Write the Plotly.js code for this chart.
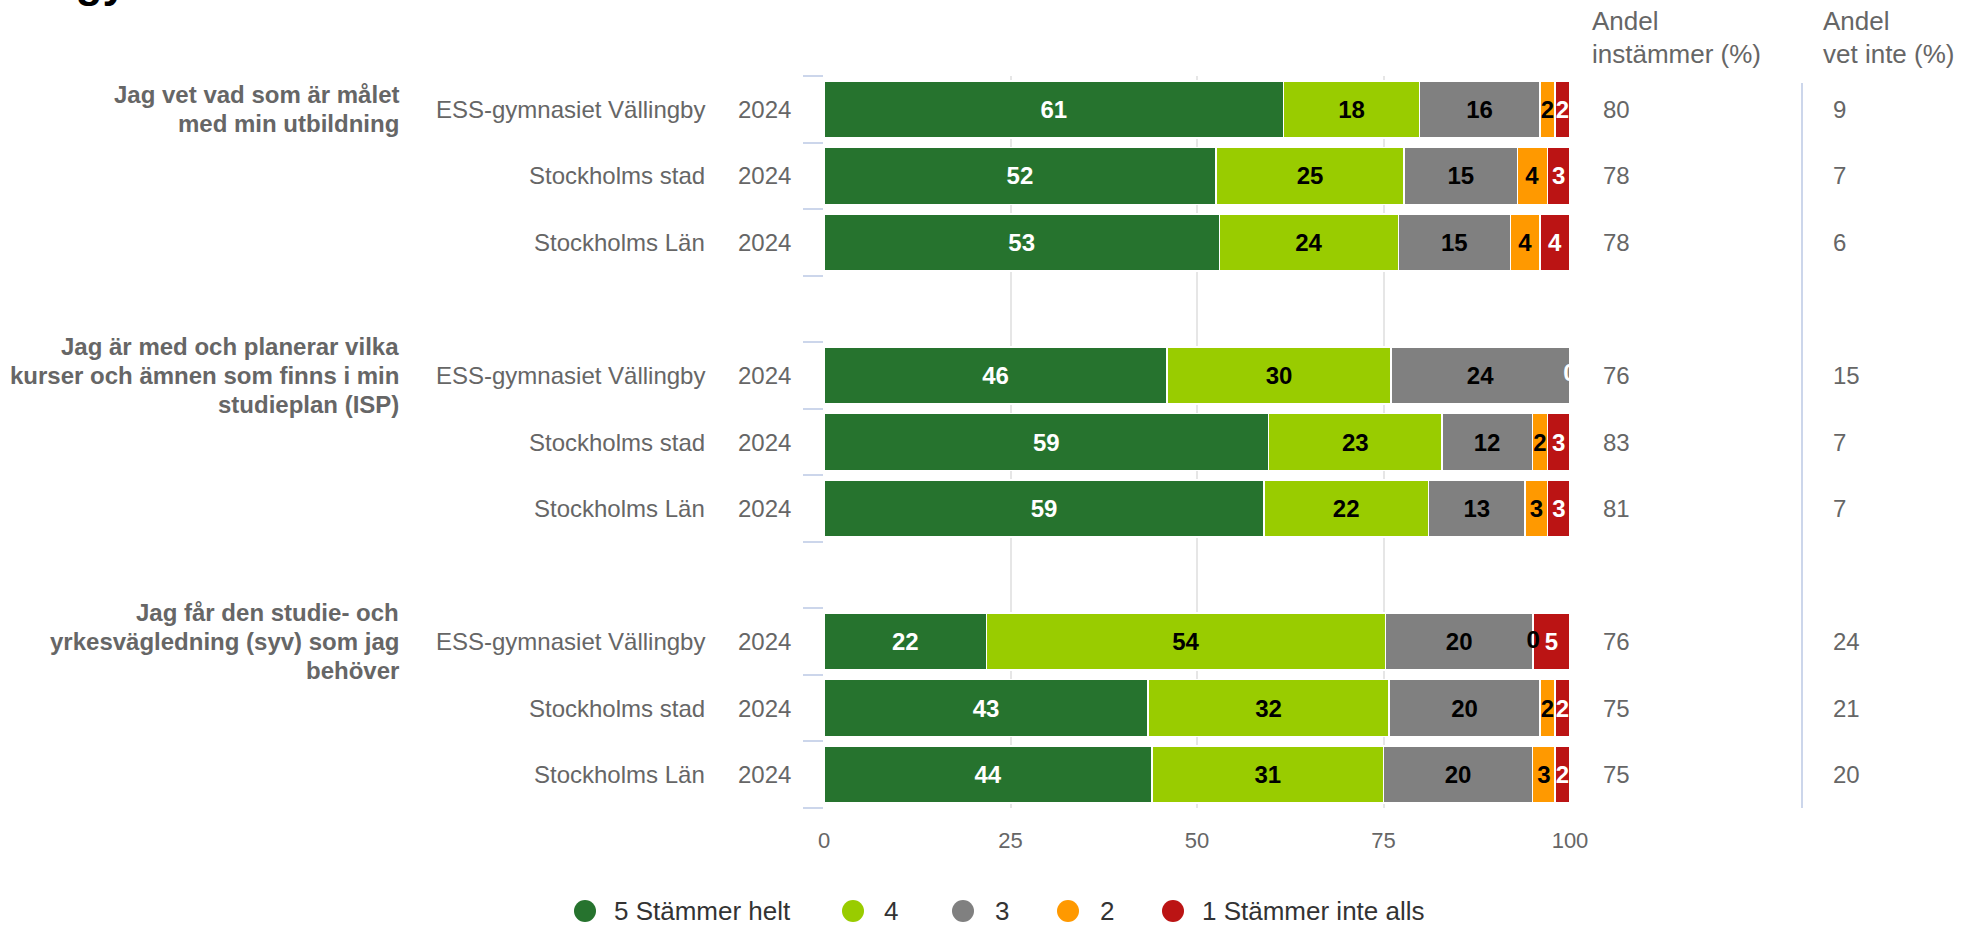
<!DOCTYPE html>
<html><head><meta charset="utf-8">
<script src="https://cdn.plot.ly/plotly-3.0.1.min.js"></script>
<style>html,body{margin:0;padding:0;background:#fff;overflow:hidden}</style>
</head><body><div id="chart" style="width:1967px;height:925px"></div>
<script>
// ---- data ----
const questions = [
  "Jag vet vad som är målet<br>med min utbildning",
  "Jag är med och planerar vilka<br>kurser och ämnen som finns i min<br>studieplan (ISP)",
  "Jag får den studie- och<br>yrkesvägledning (syv) som jag<br>behöver"
];
const units = ["ESS-gymnasiet Vällingby", "Stockholms stad", "Stockholms Län",
               "ESS-gymnasiet Vällingby", "Stockholms stad", "Stockholms Län",
               "ESS-gymnasiet Vällingby", "Stockholms stad", "Stockholms Län"];
const years = ["2024", "2024", "2024", "2024", "2024", "2024", "2024", "2024", "2024"];
const s5 = [61, 52, 53, 46, 59, 59, 22, 43, 44];
const s4 = [18, 25, 24, 30, 23, 22, 54, 32, 31];
const s3 = [16, 15, 15, 24, 12, 13, 20, 20, 20];
const s2 = [2, 4, 4, null, 2, 3, 0, 2, 3];
const s1 = [2, 3, 4, 0, 3, 3, 5, 2, 2];
const agree = [80, 78, 78, 76, 83, 81, 76, 75, 75];
const dontKnow = [9, 7, 6, 15, 7, 7, 24, 21, 20];
const seriesNames = ["5 Stämmer helt", "4", "3", "2", "1 Stämmer inte alls"];
const xTicks = [0, 25, 50, 75, 100];
const headerAgree = ["Andel", "instämmer (%)"];
const headerDontKnow = ["Andel", "vet inte (%)"];
const titleText = "ESS-gymnasiet";

// ---- styles ----
const seriesColors = ["#26732e", "#99cc00", "#808080", "#ff9900", "#bb1414"];
const labelColors = ["#ffffff", "#000000", "#000000", "#000000", "#ffffff"];
const FONT = "Liberation Sans, Arial, Helvetica, sans-serif";
const W = 1967, H = 925, L = 824, R = 1570, T = 76, B = 808;
const px2x = p => (p - L) / (R - L);
const px2y = p => (B - p) / (B - T);

const series = [s5, s4, s3, s2, s1];
const perGroup = 3;
const rowPos = units.map((u, i) => Math.floor(i / perGroup) * (perGroup + 1) + (i % perGroup));
const nSlots = rowPos[rowPos.length - 1] + 1;

const traces = [];
series.forEach((vals, k) => {
  traces.push({
    type: "bar", orientation: "h", name: seriesNames[k],
    x: vals, y: rowPos,
    text: vals.map(v => (v === null || v === 0) ? "" : String(v)),
    textposition: "inside", insidetextanchor: "middle", constraintext: "none", textangle: 0,
    insidetextfont: {family: FONT, size: 24, color: labelColors[k], weight: "bold"},
    marker: {color: seriesColors[k], line: {color: "#ffffff", width: 1.5}},
    showlegend: false, hoverinfo: "skip", cliponaxis: true
  });
});
// zero-value labels, placed at the stack position of the empty segment
series.forEach((vals, k) => {
  const xs = [], ys = [], ts = [];
  vals.forEach((v, i) => {
    if (v === 0) {
      const total = series.reduce((a, s) => a + (s[i] || 0), 0);
      const before = series.slice(0, k).reduce((a, s) => a + (s[i] || 0), 0);
      xs.push(before / total * 100); ys.push(rowPos[i]); ts.push(String(v));
    }
  });
  if (xs.length) traces.push({
    type: "scatter", mode: "text", x: xs, y: ys, text: ts,
    textfont: {family: FONT, size: 24, color: labelColors[k], weight: "bold"},
    showlegend: false, hoverinfo: "skip", cliponaxis: true
  });
});

const annotations = [];
const shapes = [];
const LINE_H = 29;
// question labels (one annotation per line for exact line spacing)
questions.forEach((q, g) => {
  const lines = q.split("<br>");
  lines.forEach((line, j) => {
    annotations.push({xref: "paper", yref: "y", x: px2x(401), y: g * (perGroup + 1),
      yshift: ((lines.length - 1) / 2 - j) * LINE_H,
      xanchor: "right", yanchor: "middle", align: "right", showarrow: false, text: line,
      font: {family: FONT, size: 24, color: "#666666", weight: "bold"}});
  });
});
units.forEach((u, i) => {
  annotations.push({xref: "paper", yref: "y", x: px2x(707), y: rowPos[i],
    xanchor: "right", yanchor: "middle", showarrow: false, text: u,
    font: {family: FONT, size: 24, color: "#666666"}});
  annotations.push({xref: "paper", yref: "y", x: px2x(736), y: rowPos[i],
    xanchor: "left", yanchor: "middle", showarrow: false, text: years[i],
    font: {family: FONT, size: 24, color: "#666666"}});
  annotations.push({xref: "paper", yref: "y", x: px2x(1601), y: rowPos[i],
    xanchor: "left", yanchor: "middle", showarrow: false, text: String(agree[i]),
    font: {family: FONT, size: 24, color: "#666666"}});
  annotations.push({xref: "paper", yref: "y", x: px2x(1831), y: rowPos[i],
    xanchor: "left", yanchor: "middle", showarrow: false, text: String(dontKnow[i]),
    font: {family: FONT, size: 24, color: "#666666"}});
});
[[headerAgree, 1590], [headerDontKnow, 1821]].forEach(([hdr, xp]) => {
  hdr.forEach((line, j) => {
    annotations.push({xref: "paper", yref: "paper", x: px2x(xp), y: px2y(j === 0 ? 21 : 54),
      xanchor: "left", yanchor: "middle", showarrow: false, text: line,
      font: {family: FONT, size: 26, color: "#666666"}});
  });
});
annotations.push({xref: "paper", yref: "paper", x: px2x(-29), y: px2y(8),
  xanchor: "left", yanchor: "bottom", showarrow: false, text: titleText,
  font: {family: FONT, size: 44, color: "#000000", weight: "bold"}});

// legend (circle markers + labels)
const legendCx = [585, 853, 963, 1068, 1173];
const legendTx = [612, 882, 993, 1098, 1200];
const legendY = 911;
seriesNames.forEach((n, k) => {
  shapes.push({type: "circle", xref: "paper", yref: "paper", xsizemode: "pixel", ysizemode: "pixel",
    xanchor: px2x(legendCx[k]), yanchor: px2y(legendY), x0: -11, x1: 11, y0: -11, y1: 11,
    fillcolor: seriesColors[k], line: {width: 0}});
  annotations.push({xref: "paper", yref: "paper", x: px2x(legendTx[k]), y: px2y(legendY),
    xanchor: "left", yanchor: "middle", showarrow: false, text: n,
    font: {family: FONT, size: 26, color: "#333333"}});
});

shapes.push({type: "line", xref: "paper", yref: "paper", x0: px2x(1802), x1: px2x(1802),
  y0: 0, y1: px2y(83), line: {color: "#ccd6eb", width: 2}});

const boundaries = [];
for (let b = 0; b <= nSlots; b++) boundaries.push(b - 0.5);

const layout = {
  width: W, height: H,
  margin: {l: L, r: W - R, t: T, b: H - B, pad: 0, autoexpand: false},
  paper_bgcolor: "#ffffff", plot_bgcolor: "#ffffff",
  font: {family: FONT, color: "#666666"},
  barmode: "stack", barnorm: "percent", bargap: 0.143,
  showlegend: false,
  xaxis: {range: [0, 100], tickvals: xTicks, ticktext: xTicks.map(String),
    showgrid: true, gridcolor: "#e6e6e6", gridwidth: 2, zeroline: false, showline: false,
    ticks: "", ticklabelstandoff: 17, tickfont: {family: FONT, size: 22, color: "#666666"}, fixedrange: true},
  yaxis: {range: [nSlots - 0.5, -0.5], tickvals: boundaries, ticktext: boundaries.map(() => ""),
    showticklabels: false, ticks: "outside", ticklen: 20, tickwidth: 2, tickcolor: "#ccd6eb",
    showgrid: false, zeroline: false, showline: false, fixedrange: true},
  shapes: shapes,
  annotations: annotations,
  hovermode: false
};
Plotly.newPlot("chart", traces, layout, {displayModeBar: false, staticPlot: true});
</script></body></html>
